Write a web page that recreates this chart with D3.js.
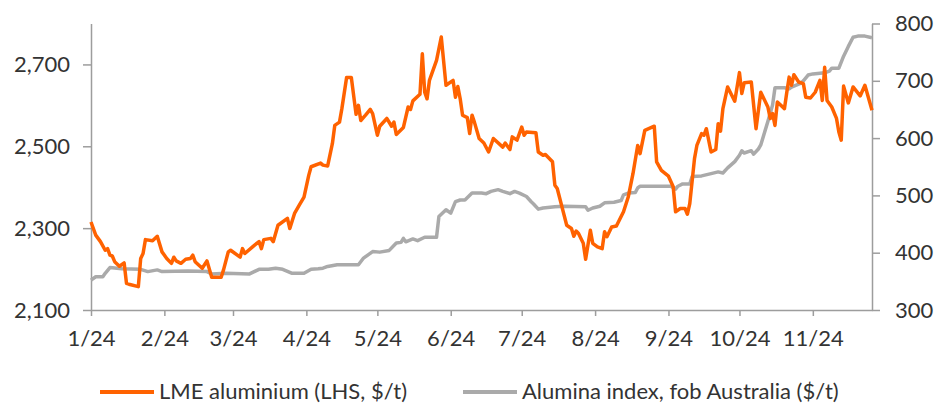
<!DOCTYPE html>
<html lang="en">
<head>
<meta charset="UTF-8" />
<title>LME aluminium vs alumina index</title>
<script src="https://d3js.org/d3.v7.min.js"></script>
<style>
  body { margin: 0; background: #fff; font-family: Lato, sans-serif; }
  svg { display: block; }
  .axis path, .axis line { stroke: #9d9d9d; stroke-width: 1.5px; }
  .axis text { font-family: Lato, sans-serif; font-size: 22px; fill: #333; }
  .legend text { font-family: Lato, sans-serif; font-size: 22px; fill: #333; }
</style>
</head>
<body>
<div id="chart"></div>
<script>
// LME aluminium, $/t (left axis)
const lmeDates = [
  "01-01","01-03","01-05","01-07","01-08","01-09","01-10","01-11","01-13","01-15",
  "01-16","01-17","01-21","01-22","01-23","01-24","01-27","01-29","01-31","02-02",
  "02-04","02-05","02-06","02-08","02-10","02-12","02-13","02-14","02-17","02-19",
  "02-21","02-25","02-26","02-28","02-29","03-04","03-05","03-06","03-10","03-12",
  "03-13","03-14","03-17","03-18","03-20","03-24","03-25","03-27","03-29","03-31",
  "04-02","04-03","04-07","04-08","04-10","04-12","04-13","04-15","04-16","04-18",
  "04-20","04-22","04-23","04-24","04-26","04-28","04-29","05-01","05-02","05-05",
  "05-07","05-08","05-09","05-12","05-14","05-15","05-16","05-19","05-20","05-21",
  "05-22","05-23","05-26","05-28","05-30","06-02","06-03","06-04","06-05","06-06",
  "06-08","06-09","06-10","06-11","06-13","06-15","06-17","06-19","06-23","06-24",
  "06-26","06-27","06-29","07-01","07-02","07-03","07-07","07-08","07-10","07-11",
  "07-14","07-15","07-16","07-18","07-20","07-22","07-23","07-24","07-25","07-27",
  "07-28","07-30","07-31","08-02","08-04","08-05","08-06","08-08","08-10","08-13",
  "08-15","08-17","08-19","08-20","08-22","08-26","08-27","08-29","09-01","09-03",
  "09-04","09-06","09-08","09-09","09-10","09-12","09-13","09-15","09-16","09-17",
  "09-19","09-21","09-22","09-23","09-24","09-26","09-29","10-01","10-02","10-03",
  "10-06","10-08","10-10","10-13","10-14","10-15","10-16","10-17","10-20","10-21",
  "10-22","10-23","10-24","10-26","10-28","10-29","10-31","11-02","11-04","11-05",
  "11-06","11-07","11-09","11-11","11-12","11-13","11-14","11-16","11-18","11-21",
  "11-23","11-26"
];
const lmeValues = [
  2315,2283,2267,2246,2250,2234,2232,2218,2207,2215,
  2165,2163,2157,2226,2238,2272,2269,2280,2242,2226,
  2214,2229,2220,2214,2224,2226,2234,2218,2202,2220,
  2180,2180,2198,2242,2246,2229,2250,2238,2258,2267,
  2250,2272,2275,2267,2307,2324,2299,2336,2356,2376,
  2429,2450,2459,2454,2452,2507,2551,2559,2592,2668,
  2668,2578,2600,2563,2576,2590,2580,2527,2549,2568,
  2549,2559,2529,2546,2596,2590,2611,2627,2726,2632,
  2616,2661,2710,2767,2649,2661,2620,2646,2616,2576,
  2570,2531,2576,2559,2519,2508,2486,2519,2498,2508,
  2492,2523,2515,2547,2527,2535,2533,2486,2478,2480,
  2462,2405,2397,2352,2307,2299,2280,2293,2287,2263,
  2224,2295,2263,2254,2250,2291,2279,2303,2305,2340,
  2376,2433,2502,2482,2539,2549,2462,2441,2427,2401,
  2340,2348,2348,2334,2360,2470,2502,2531,2527,2543,
  2486,2492,2555,2537,2592,2645,2610,2680,2629,2655,
  2657,2543,2632,2596,2568,2580,2551,2608,2592,2632,
  2669,2649,2675,2657,2653,2620,2618,2632,2661,2612,
  2693,2612,2596,2568,2535,2515,2647,2606,2645,2623,
  2649,2588
];

// Alumina index, fob Australia, $/t (right axis)
const aluminaDates = [
  "01-01","01-03","01-06","01-07","01-09","01-14","01-22","01-25","01-29","01-31",
  "02-11","02-19","02-21","02-27","03-08","03-12","03-16","03-19","03-22","03-26",
  "03-31","04-03","04-06","04-08","04-10","04-14","04-23","04-25","04-29","05-02",
  "05-06","05-09","05-11","05-12","05-13","05-16","05-18","05-21","05-26","05-27",
  "05-30","06-01","06-03","06-05","06-07","06-10","06-14","06-16","06-18","06-21",
  "06-23","06-26","06-28","06-30","07-03","07-05","07-06","07-08","07-10","07-15",
  "07-19","07-28","07-29","07-31","08-03","08-05","08-09","08-12","08-13","08-15",
  "08-18","08-19","08-20","09-02","09-04","09-05","09-07","09-10","09-11","09-15",
  "09-19","09-22","09-24","09-26","09-29","10-01","10-02","10-03","10-06","10-07",
  "10-09","10-10","10-13","10-15","10-16","10-20","10-22","10-23","10-27","10-28",
  "10-30","11-01","11-06","11-08","11-09","11-12","11-14","11-16","11-18","11-20",
  "11-23","11-26"
];
const aluminaValues = [
  352,358,358,364,374,372,371,367,370,367,
  368,367,363,364,363,371,371,373,371,364,
  364,371,372,373,376,379,379,390,402,401,
  404,417,418,425,419,424,421,427,427,463,
  475,469,489,492,492,504,504,503,507,510,
  507,503,507,504,498,489,485,476,478,480,
  481,480,474,478,481,487,488,491,501,504,
  505,513,516,516,511,516,520,520,533,534,
  538,541,539,548,559,570,578,574,578,572,
  581,588,629,658,688,688,686,689,696,700,
  710,712,714,717,722,722,743,760,776,778,
  778,775
];

const leftTicks = [2100, 2300, 2500, 2700];
const rightTicks = [300, 400, 500, 600, 700, 800];
const monthTicks = ["01-01","02-01","03-01","04-01","05-01","06-01","07-01","08-01","09-01","10-01","11-01"];
const seriesNames = ["LME aluminium (LHS, $/t)", "Alumina index, fob Australia ($/t)"];
const seriesColors = ["#ff6200", "#aaaaaa"];

const width = 946, height = 404;
const margin = { top: 23.5, right: 74, bottom: 94, left: 91 };

const parse = s => d3.timeParse("%Y-%m-%d")("2024-" + s);

const lme = lmeDates.map((d, i) => ({ date: parse(d), value: lmeValues[i] }));
const alumina = aluminaDates.map((d, i) => ({ date: parse(d), value: aluminaValues[i] }));

const svg = d3.select("#chart").append("svg")
  .attr("width", width)
  .attr("height", height);

const x = d3.scaleTime()
  .domain([parse("01-01"), parse("11-26")])
  .range([margin.left, width - margin.right]);

const yLeft = d3.scaleLinear()
  .domain([2100, 2800])
  .range([height - margin.bottom, margin.top]);

const yRight = d3.scaleLinear()
  .domain([300, 800])
  .range([height - margin.bottom, margin.top]);

// axes
svg.append("g")
  .attr("class", "axis")
  .attr("transform", `translate(0,${height - margin.bottom})`)
  .call(d3.axisBottom(x)
    .tickValues(monthTicks.map(parse))
    .tickFormat(d3.timeFormat("%-m/%y"))
    .tickSize(6)
    .tickSizeOuter(0)
    .tickPadding(14));

svg.append("g")
  .attr("class", "axis")
  .attr("transform", `translate(${margin.left},0)`)
  .call(d3.axisLeft(yLeft)
    .tickValues(leftTicks)
    .tickFormat(d3.format(","))
    .tickSize(8)
    .tickSizeOuter(0)
    .tickPadding(13));

svg.append("g")
  .attr("class", "axis")
  .attr("transform", `translate(${width - margin.right},0)`)
  .call(d3.axisRight(yRight)
    .tickValues(rightTicks)
    .tickSize(8)
    .tickSizeOuter(0)
    .tickPadding(15));

svg.selectAll(".axis .tick text").attr("font-size", null).attr("font-family", null);

// lines
const lineLeft = d3.line().x(d => x(d.date)).y(d => yLeft(d.value));
const lineRight = d3.line().x(d => x(d.date)).y(d => yRight(d.value));

svg.append("path")
  .datum(alumina)
  .attr("fill", "none")
  .attr("stroke", seriesColors[1])
  .attr("stroke-width", 3.5)
  .attr("stroke-linejoin", "round")
  .attr("d", lineRight);

svg.append("path")
  .datum(lme)
  .attr("fill", "none")
  .attr("stroke", seriesColors[0])
  .attr("stroke-width", 3.5)
  .attr("stroke-linejoin", "round")
  .attr("d", lineLeft);

// legend
const legendX = [100, 463];
const legend = svg.append("g").attr("class", "legend")
  .selectAll("g")
  .data(seriesNames)
  .enter().append("g")
  .attr("transform", (d, i) => `translate(${legendX[i]},392)`);

legend.append("line")
  .attr("x1", 0).attr("x2", 54)
  .attr("stroke", (d, i) => seriesColors[i])
  .attr("stroke-width", 4);

legend.append("text")
  .attr("x", 59)
  .attr("dy", "0.3em")
  .text(d => d);
</script>
</body>
</html>
